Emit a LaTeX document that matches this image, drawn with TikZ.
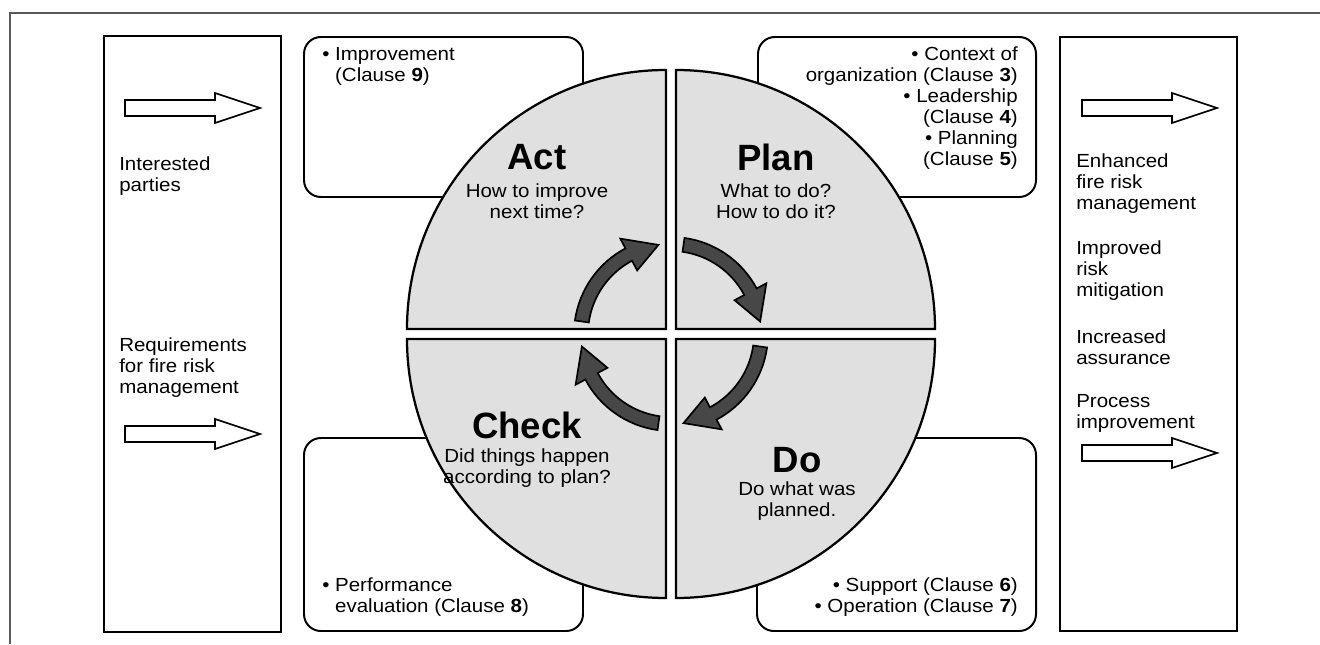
\documentclass[tikz,border=0pt]{standalone}
\usepackage{fontspec}
\setmainfont{Liberation Sans}
\newfontfamily\widefont{Liberation Sans}[FakeStretch=1.08]
\begin{document}
\begin{tikzpicture}[x=0.025cm, y=-0.025cm]
    % Define styles
    \tikzset{
        frame/.style={
            black!65,
            line width=0.8pt
        },
        sidebox/.style={
            draw,
            line width=1.4pt
        },
        clausebox/.style={
            draw,
            line width=1.4pt,
            rounded corners=12pt
        },
        quadrant/.style={
            draw,
            line width=1.6pt,
            fill=black!12
        },
        cyclearrow/.style={
            draw,
            line width=1.2pt,
            fill=black!72
        },
        blockarrow/.style={
            draw,
            line width=1.2pt
        },
        title/.style={
            inner sep=0pt,
            font=\fontsize{26}{30}\selectfont\bfseries
        },
        phase/.style={
            inner sep=0pt,
            align=center,
            font=\widefont\fontsize{13.5}{14.9}\selectfont
        },
        clause/.style={
            inner sep=0pt,
            font=\widefont\fontsize{13.5}{14.9}\selectfont
        },
        sidetext/.style={
            inner sep=0pt,
            anchor=west,
            align=left,
            font=\widefont\fontsize{13.5}{14.9}\selectfont
        }
    }

    \useasboundingbox (0,0) rectangle (1320,644);

    % Outer frame
    \draw[frame] (10,644) -- (10,13) -- (1320,13);

    % Side boxes
    \draw[sidebox] (104,36) rectangle (281,632);
    \draw[sidebox] (1060,37) rectangle (1237,631);

    % Clause boxes
    \draw[clausebox] (304,37) rectangle (583,197);
    \draw[clausebox] (758,37) rectangle (1036,197);
    \draw[clausebox] (304,438) rectangle (583,631);
    \draw[clausebox] (757,438) rectangle (1036,631);

    % Block arrows
    \foreach \x/\y in {125/108, 125/434, 1082/108, 1082/453}
        \draw[blockarrow] (\x,\y) ++(0,-8) -- ++(90,0) -- ++(0,-7) -- ++(45,15)
            -- ++(-45,15) -- ++(0,-7) -- ++(-90,0) -- cycle;

    % PDCA circle
    \coordinate (c) at (671,334);
    \filldraw[quadrant] (666,329) -- ++(-259,0) arc[start angle=180, end angle=270, radius=259] -- cycle;
    \filldraw[quadrant] (676,329) -- ++(0,-259) arc[start angle=270, end angle=360, radius=259] -- cycle;
    \filldraw[quadrant] (676,339) -- ++(259,0) arc[start angle=0, end angle=90, radius=259] -- cycle;
    \filldraw[quadrant] (666,339) -- ++(0,259) arc[start angle=90, end angle=180, radius=259] -- cycle;

    % Cycle arrows
    \foreach \a in {8,98,188,278} {
        \pgfmathsetmacro\headbase{\a+54}
        \pgfmathsetmacro\tipangle{\a+74}
        \filldraw[cyclearrow] ([shift={(\a:83)}]c) arc[start angle=\a, end angle=\headbase, radius=83]
            -- ([shift={(\headbase:72)}]c) -- ([shift={(\tipangle:90)}]c) -- ([shift={(\headbase:108)}]c)
            -- ([shift={(\headbase:97)}]c) arc[start angle=\headbase, end angle=\a, radius=97] -- cycle;
    }

    % Phase titles
    \node[title] (act) at (537,157) {Act};
    \node[phase] (actq) at (537,201) {How to improve\\next time?};
    \node[title] (plan) at (776,157) {Plan};
    \node[phase] (planq) at (776,201) {What to do?\\How to do it?};
    \node[title] (check) at (527,425) {Check};
    \node[phase] (checkq) at (527,468) {Did things happen\\according to plan?};
    \node[title] (do) at (797,460) {Do};
    \node[phase] (doq) at (797,501) {Do what was\\planned.};

    % Clause texts
    \node[clause, anchor=west, align=left] (improve) at (322,66)
        {\textbullet\ Improvement\\\phantom{\textbullet\ }(Clause \textbf{9})};
    \node[clause, anchor=east, align=right] (planning) at (1018,108)
        {\textbullet\ Context of\\organization (Clause \textbf{3})\\\textbullet\ Leadership\\(Clause \textbf{4})\\\textbullet\ Planning\\(Clause \textbf{5})};
    \node[clause, anchor=west, align=left] (evaluation) at (322,597)
        {\textbullet\ Performance\\\phantom{\textbullet\ }evaluation (Clause \textbf{8})};
    \node[clause, anchor=east, align=right] (operation) at (1018,597)
        {\textbullet\ Support (Clause \textbf{6})\\\textbullet\ Operation (Clause \textbf{7})};

    % Side texts
    \node[sidetext] (parties) at (119,176) {Interested\\parties};
    \node[sidetext] (requirements) at (119,368) {Requirements\\for fire risk\\management};
    \node[sidetext] (enhanced) at (1076,184) {Enhanced\\fire risk\\management};
    \node[sidetext] (improved) at (1076,271) {Improved\\risk\\mitigation};
    \node[sidetext] (assurance) at (1076,347) {Increased\\assurance};
    \node[sidetext] (process) at (1076,413) {Process\\improvement};

\end{tikzpicture}
\end{document}
